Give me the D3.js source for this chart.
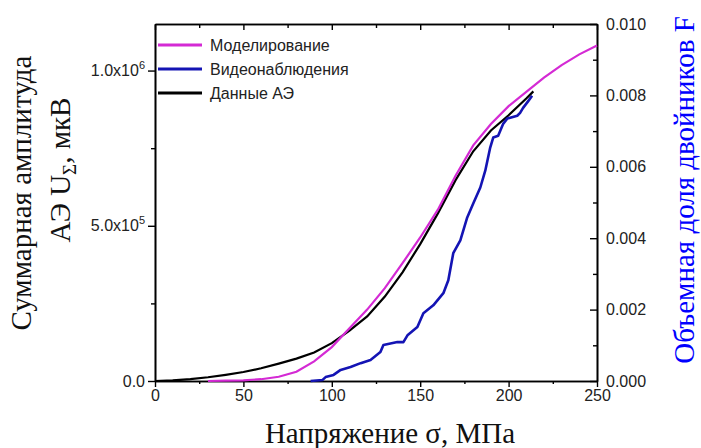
<!DOCTYPE html>
<html lang="ru">
<head>
<meta charset="UTF-8">
<script src="https://cdn.jsdelivr.net/npm/d3@7"></script>
<title>AE chart</title>
<style>
  body { margin: 0; background: #fff; }
  .tick text { font-family: "Liberation Sans", Arial, sans-serif; font-size: 16px; fill: #222; }
  .title { font-family: "Liberation Serif", "Times New Roman", serif; font-size: 29px; }
</style>
</head>
<body>
<script>
// данные: напряжение (МПа) и значения кривых
const modelX = [30, 40, 50, 60, 70, 80, 90, 100, 110, 120, 130, 140, 150, 160, 170, 180, 190, 200, 210, 220, 230, 240, 250]
const modelF = [0, 0.00001, 0.00002, 0.00005, 0.00012, 0.00026, 0.00055, 0.00095, 0.00148, 0.0020, 0.0026, 0.0033, 0.00402, 0.0048, 0.00575, 0.0066, 0.0072, 0.0077, 0.0081, 0.0085, 0.00885, 0.00915, 0.0094]

const videoX = [88, 94.8, 96.5, 101, 105, 110.6, 116.3, 121.9, 127.5, 129.2, 137.1, 140.5, 142.8, 148.4, 151.8, 157.4, 163.1, 165.9, 168.7, 172.7, 176.6, 180, 184, 186.8, 189.6, 191.3, 194.1, 197, 199.2, 204.9, 206.5, 208.2, 211.1, 213.3]
const videoF = [0, 0.00003, 0.00011, 0.00017, 0.00031, 0.00039, 0.0005, 0.00059, 0.00081, 0.00101, 0.00109, 0.00109, 0.00128, 0.00151, 0.0019, 0.00212, 0.00246, 0.00282, 0.00358, 0.00394, 0.00458, 0.00497, 0.00542, 0.00589, 0.00654, 0.00682, 0.00687, 0.00721, 0.00735, 0.00743, 0.00751, 0.00765, 0.00784, 0.00799]

const aeX = [0, 10, 20, 30, 40, 50, 60, 70, 80, 90, 100, 110, 120, 130, 140, 150, 160, 170, 180, 190, 200, 210, 214]
const aeU = [0, 2e3, 6e3, 1.2e4, 2e4, 2.9e4, 4.1e4, 5.6e4, 7.2e4, 9.2e4, 1.22e5, 1.62e5, 2.08e5, 2.72e5, 3.5e5, 4.41e5, 5.4e5, 6.47e5, 7.4e5, 8.07e5, 8.56e5, 9.1e5, 9.33e5]

const xMajor = [0, 50, 100, 150, 200, 250]
const xMinor = [25, 75, 125, 175, 225]
const leftMajor = [0, 5e5, 1e6]
const leftMinor = [2.5e5, 7.5e5]
const leftTickLabels = [["0.0", ""], ["5.0x10", "5"], ["1.0x10", "6"]]
const rightMajor = [0, 0.002, 0.004, 0.006, 0.008, 0.010]
const rightMinor = [0.001, 0.003, 0.005, 0.007, 0.009]

const legendNames = ["Моделирование", "Видеонаблюдения", "Данные АЭ"]
const colors = ["#d42ad4", "#1414b4", "#000"]

const width = 701, height = 448
const plotL = 155, plotR = 597, plotT = 24, plotB = 381

const x = d3.scaleLinear().domain([0, 250]).range([plotL, plotR])
const yL = d3.scaleLinear().domain([0, 1.15e6]).range([plotB, plotT])
const yR = d3.scaleLinear().domain([0, 0.010]).range([plotB, plotT])

const svg = d3.select("body").append("svg").attr("width", width).attr("height", height)

// оси
function styleAxis(g) {
  g.select(".domain").attr("stroke", "#000").attr("stroke-width", 1.6)
  g.selectAll(".tick line").attr("stroke", "#000").attr("stroke-width", 1.4)
}

svg.append("g").attr("transform", `translate(0,${plotB})`)
  .call(d3.axisBottom(x).tickValues(xMajor).tickSize(6).tickSizeOuter(0).tickPadding(3).tickFormat(d3.format("d")))
  .call(styleAxis)
svg.append("g").attr("transform", `translate(0,${plotB})`)
  .call(d3.axisBottom(x).tickValues(xMinor).tickSize(3).tickSizeOuter(0).tickFormat(""))
  .call(styleAxis)
svg.append("g").attr("transform", `translate(0,${plotT})`)
  .call(d3.axisTop(x).tickValues(xMajor).tickSize(-6).tickSizeOuter(0).tickFormat(""))
  .call(styleAxis)
svg.append("g").attr("transform", `translate(0,${plotT})`)
  .call(d3.axisTop(x).tickValues(xMinor).tickSize(-4).tickSizeOuter(0).tickFormat(""))
  .call(styleAxis)

const gl = svg.append("g").attr("transform", `translate(${plotL},0)`)
  .call(d3.axisLeft(yL).tickValues(leftMajor).tickSize(7).tickSizeOuter(0).tickPadding(3).tickFormat(""))
  .call(styleAxis)
gl.selectAll(".tick text").each(function(d, i) {
  const t = d3.select(this)
  t.append("tspan").text(leftTickLabels[i][0])
  if (leftTickLabels[i][1]) t.append("tspan").attr("dy", -7).attr("font-size", 11).text(leftTickLabels[i][1])
})
svg.append("g").attr("transform", `translate(${plotL},0)`)
  .call(d3.axisLeft(yL).tickValues(leftMinor).tickSize(4).tickSizeOuter(0).tickFormat(""))
  .call(styleAxis)

svg.append("g").attr("transform", `translate(${plotR},0)`)
  .call(d3.axisRight(yR).tickValues(rightMajor).tickSize(-7).tickSizeOuter(0).tickPadding(9).tickFormat(d3.format(".3f")))
  .call(styleAxis)
svg.append("g").attr("transform", `translate(${plotR},0)`)
  .call(d3.axisRight(yR).tickValues(rightMinor).tickSize(-4).tickSizeOuter(0).tickFormat(""))
  .call(styleAxis)

// кривые
const lineR = d3.line().x(d => x(d[0])).y(d => yR(d[1]))
const lineL = d3.line().x(d => x(d[0])).y(d => yL(d[1]))

svg.append("path").datum(d3.zip(aeX, aeU)).attr("d", lineL)
  .attr("fill", "none").attr("stroke", colors[2]).attr("stroke-width", 2.2)
svg.append("path").datum(d3.zip(videoX, videoF)).attr("d", lineR)
  .attr("fill", "none").attr("stroke", colors[1]).attr("stroke-width", 2.6).attr("stroke-linejoin", "round")
svg.append("path").datum(d3.zip(modelX, modelF)).attr("d", lineR)
  .attr("fill", "none").attr("stroke", colors[0]).attr("stroke-width", 2.2)

// легенда
const legend = svg.append("g").selectAll("g").data(legendNames).enter().append("g")
  .attr("transform", (d, i) => `translate(158,${45 + i * 24})`)
legend.append("line").attr("x1", 0).attr("x2", 44).attr("stroke", (d, i) => colors[i]).attr("stroke-width", 3)
legend.append("text").attr("x", 52).attr("dy", "0.35em").text(d => d)
  .attr("font-family", "Liberation Sans, Arial, sans-serif").attr("font-size", 16).attr("fill", "#222")

// подписи осей
svg.append("text").attr("class", "title").attr("x", 390).attr("y", 443).attr("text-anchor", "middle")
  .attr("fill", "#111").text("Напряжение σ, МПа")
svg.append("text").attr("class", "title").attr("transform", "translate(31,193) rotate(-90)")
  .attr("text-anchor", "middle").attr("fill", "#111").text("Суммарная амплитуда")
const t2 = svg.append("text").attr("class", "title").attr("transform", "translate(70,170) rotate(-90)")
  .attr("text-anchor", "middle").attr("fill", "#111")
t2.append("tspan").text("АЭ U")
t2.append("tspan").attr("dy", 6).attr("font-size", 19).text("Σ")
t2.append("tspan").attr("dy", -6).text(", мкВ")
svg.append("text").attr("class", "title").attr("transform", "translate(694,190) rotate(-90)")
  .attr("text-anchor", "middle").attr("fill", "#0000ff").text("Объемная доля двойников F")
</script>
</body>
</html>
